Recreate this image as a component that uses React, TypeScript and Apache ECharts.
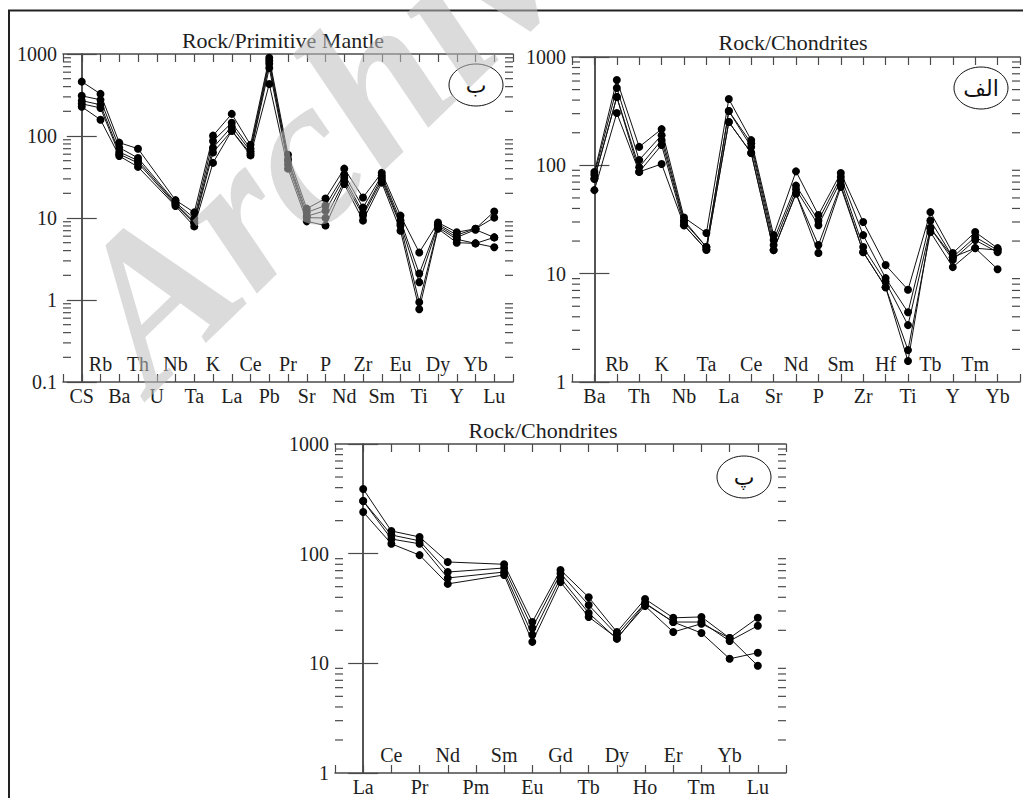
import React, { useEffect, useRef } from "react";
import * as echarts from "echarts";

// ---------- Chart ب : Rock / Primitive Mantle ----------
const PM_ELEMENTS = ["CS", "Rb", "Ba", "Th", "U", "Nb", "Ta", "K", "La", "Ce", "Pb", "Pr", "Sr", "P", "Nd", "Zr", "Sm", "Eu", "Ti", "Dy", "Y", "Yb", "Lu"];
const PM_S1 = [460, 326, 83, 70, null, 16.5, 11.7, 101, 186, 78, 900, 59, 13, 17.3, 40, 17.8, 35.7, 10.7, 3.8, 8.8, 6.7, 7.4, 12];
const PM_S2 = [309, 276, 72, 54, null, 15.5, 9.9, 87, 145, 70, 830, 52, 11.7, 14.2, 34, 13.4, 33, 9.3, 2.1, 8.4, 6.2, 7.4, 10.1];
const PM_S3 = [270, 240, 64, 50, null, 15, 9, 72, 130, 65, 760, 50, 10.5, 12.3, 31, 11.5, 31, 8.5, 1.65, 8.1, 5.8, 7.2, 5.8];
const PM_S4 = [247, 220, 60, 47, null, 14.5, 8.6, 63, 116, 61, 676, 45, 10.1, 10, 28, 10.7, 29, 8.1, 0.94, 7.7, 5.5, 4.9, 5.8];
const PM_S5 = [227, 158, 57, 42, null, 14, 7.9, 47, 116, 58, 431, 40, 9.1, 8.1, 26, 9.3, 27, 7, 0.77, 7.4, 5.0, 4.9, 4.4];

// ---------- Chart الف : Rock / Chondrites (spider) ----------
const CH_ELEMENTS = ["Ba", "Rb", "Th", "K", "Nb", "Ta", "La", "Ce", "Sr", "Nd", "P", "Sm", "Zr", "Hf", "Ti", "Tb", "Y", "Tm", "Yb"];
const CH_S1 = [86.7, 613, 148, 216, 33, 23.7, 409, 171, 22.7, 88, 34.8, 85, 30, 12, 7.1, 37, 15.5, 24.2, 17.2];
const CH_S2 = [82, 518, 112, 190, 31, 17.6, 317, 160, 20.4, 65, 31, 78, 22.7, 9.1, 4.4, 31, 14.2, 21.8, 16.5];
const CH_S3 = [75, 427, 96, 171, 30, 17.6, 317, 148, 18.4, 60, 28, 72, 17.6, 8.4, 3.35, 26.4, 13.4, 20.4, 15.8];
const CH_S4 = [75, 427, 87, 154, 28, 16.6, 251, 130, 16.5, 55, 18.4, 66, 15.8, 7.5, 1.97, 24.2, 11.5, 17.2, 16.5];
const CH_S5 = [59, 304, 87, 103, 28, 16.6, 251, 130, 16.5, 55, 15.5, 63, 15.8, 7.5, 1.56, 26.4, 14.2, 17.2, 11];

// ---------- Chart پ : Rock / Chondrites (REE) ----------
const REE_ELEMENTS = ["La", "Ce", "Pr", "Nd", "Pm", "Sm", "Eu", "Gd", "Tb", "Dy", "Ho", "Er", "Tm", "Yb", "Lu"];
const REE_S1 = [389, 161, 142, 84, null, 80, 23.8, 71, 40, 19.3, 38.6, 26, 26.5, 17, 26];
const REE_S2 = [302, 148, 131, 68, null, 74, 21, 66, 34, 18.2, 35.5, 23.8, 23.8, 16, 22];
const REE_S3 = [302, 136, 123, 60, null, 68, 18.2, 60, 28.8, 16.7, 35, 23.8, 18.9, 11, 12.5];
const REE_S4 = [240, 123, 97, 53, null, 64, 15.7, 55, 26.5, 17, 33.3, 19.3, 23, 17, 9.5];

const TITLES = ["Rock/Primitive Mantle", "Rock/Chondrites", "Rock/Chondrites"];
const PANEL_LABELS = ["ب", "الف", "پ"];
const WATERMARK = "Archive";

const SERIF = '"Liberation Serif", "Times New Roman", serif';
const AXIS_COLOR = "#4a4a4a";
const TEXT_COLOR = "#1e1e1e";

function minorTickValues(minExp: number, maxExp: number): number[] {
  const out: number[] = [];
  for (let e = minExp; e < maxExp; e++) {
    for (let m = 2; m <= 9; m++) out.push(Number((m * Math.pow(10, e)).toPrecision(3)));
  }
  return out;
}

type Panel = {
  cats: string[];
  series: (number | null)[][];
  yMin: number;
  yMax: number;
  grid: { left: number; top: number; width: number; height: number };
};

const PANELS: Panel[] = [
  { cats: PM_ELEMENTS, series: [PM_S1, PM_S2, PM_S3, PM_S4, PM_S5], yMin: 0.1, yMax: 1000, grid: { left: 63, top: 54, width: 450, height: 328 } },
  { cats: CH_ELEMENTS, series: [CH_S1, CH_S2, CH_S3, CH_S4, CH_S5], yMin: 1, yMax: 1000, grid: { left: 572, top: 57, width: 450, height: 325 } },
  { cats: REE_ELEMENTS, series: [REE_S1, REE_S2, REE_S3, REE_S4], yMin: 1, yMax: 1000, grid: { left: 335, top: 444, width: 451, height: 329 } },
];

function buildOption() {
  const grid: any[] = [];
  const xAxis: any[] = [];
  const yAxis: any[] = [];
  const series: any[] = [];
  const axisLine = { show: true, lineStyle: { color: AXIS_COLOR, width: 1.5 } };

  PANELS.forEach((p, k) => {
    grid.push({ ...p.grid, containLabel: false });
    const n = p.cats.length;
    const base = { type: "value", gridIndex: k, min: -1, max: n, interval: 1, splitLine: { show: false } };
    const fmt = (even: boolean) => (v: number) => {
      const i = Math.round(v);
      if (i < 0 || i >= n) return "";
      return (i % 2 === 0) === even ? p.cats[i] : "";
    };
    // bottom axis with outside labels
    xAxis.push({
      ...base,
      position: "bottom",
      axisLine,
      axisTick: { show: true, inside: true, length: 8, lineStyle: { color: AXIS_COLOR, width: 1.2 } },
      axisLabel: { show: true, margin: 4, fontFamily: SERIF, fontSize: 20, color: TEXT_COLOR, formatter: fmt(true) },
    });
    // bottom axis with inside labels
    xAxis.push({
      ...base,
      position: "bottom",
      axisLine: { show: false },
      axisTick: { show: false },
      axisLabel: { show: true, inside: true, margin: 8, fontFamily: SERIF, fontSize: 20, color: TEXT_COLOR, formatter: fmt(false) },
    });
    // top axis
    xAxis.push({
      ...base,
      position: "top",
      axisLine,
      axisTick: { show: true, inside: true, length: 8, lineStyle: { color: AXIS_COLOR, width: 1.2 } },
      axisLabel: { show: false },
    });
    const yBase = { type: "log", logBase: 10, gridIndex: k, min: p.yMin, max: p.yMax, splitLine: { show: false } };
    yAxis.push({
      ...yBase,
      position: "left",
      axisLine,
      axisTick: { show: true, inside: true, length: 15, lineStyle: { color: AXIS_COLOR, width: 1.2 } },
      axisLabel: {
        show: true,
        margin: 6,
        fontFamily: SERIF,
        fontSize: 20,
        color: TEXT_COLOR,
        formatter: (v: number) => String(Number(Number(v).toPrecision(3))),
      },
    });
    yAxis.push({
      ...yBase,
      position: "right",
      axisLine,
      axisTick: { show: true, inside: true, length: 15, lineStyle: { color: AXIS_COLOR, width: 1.2 } },
      axisLabel: { show: false },
    });

    const minExp = Math.round(Math.log10(p.yMin));
    const maxExp = Math.round(Math.log10(p.yMax));
    series.push({
      type: "custom",
      xAxisIndex: 3 * k,
      yAxisIndex: 2 * k,
      silent: true,
      clip: false,
      encode: { x: 0, y: 1 },
      data: minorTickValues(minExp, maxExp).map((v) => [-1, v]),
      renderItem: (params: any, api: any) => {
        const v = api.value(1);
        const l = api.coord([-1, v]);
        const r = api.coord([n, v]);
        const style = { stroke: AXIS_COLOR, lineWidth: 1.2 };
        return {
          type: "group",
          children: [
            { type: "line", shape: { x1: l[0], y1: l[1], x2: l[0] + 8, y2: l[1] }, style },
            { type: "line", shape: { x1: r[0], y1: r[1], x2: r[0] - 8, y2: r[1] }, style },
          ],
        };
      },
    });

    p.series.forEach((vals) => {
      series.push({
        type: "line",
        xAxisIndex: 3 * k,
        yAxisIndex: 2 * k,
        data: vals.map((v, i) => [i, v]).filter((d) => d[1] != null),
        symbol: "circle",
        symbolSize: 8,
        showSymbol: true,
        lineStyle: { color: "#111", width: 1 },
        itemStyle: { color: "#000" },
        z: 3,
      });
    });
  });

  const title = [
    { text: TITLES[0], left: 283, top: 29, textAlign: "center" },
    { text: TITLES[1], left: 793, top: 31, textAlign: "center" },
    { text: TITLES[2], left: 543, top: 419, textAlign: "center" },
  ].map((t) => ({
    ...t,
    padding: 0,
    textStyle: { fontFamily: SERIF, fontSize: 22, fontWeight: "normal", color: TEXT_COLOR },
  }));

  const ellipses = [
    { cx: 476, cy: 85, label: PANEL_LABELS[0] },
    { cx: 981, cy: 88, label: PANEL_LABELS[1] },
    { cx: 744, cy: 477, label: PANEL_LABELS[2] },
  ];
  const graphic: any[] = [
    {
      type: "rect",
      shape: { x: 9, y: 10.5, width: 1030, height: 800 },
      style: { fill: "none", stroke: "#222", lineWidth: 2 },
      silent: true,
    },
  ];
  ellipses.forEach((e) => {
    graphic.push({
      type: "ellipse",
      shape: { cx: e.cx, cy: e.cy, rx: 27, ry: 21 },
      style: { fill: "none", stroke: "#111", lineWidth: 1 },
      silent: true,
    });
    graphic.push({
      type: "text",
      x: e.cx,
      y: e.cy,
      style: {
        text: e.label,
        textAlign: "center",
        textVerticalAlign: "middle",
        font: '22px "DejaVu Sans"',
        fill: "#111",
      },
      silent: true,
    });
  });
  graphic.push({
    type: "text",
    x: 348,
    y: 106,
    rotation: (44 * Math.PI) / 180,
    z: 100,
    silent: true,
    style: {
      text: WATERMARK,
      textAlign: "center",
      textVerticalAlign: "middle",
      font: 'italic bold 212px "Liberation Serif"',
      fill: "rgba(190,190,190,0.55)",
    },
  });

  return {
    animation: false,
    backgroundColor: "#ffffff",
    title,
    grid,
    xAxis,
    yAxis,
    series,
    graphic,
  };
}

export default function App() {
  const ref = useRef<HTMLDivElement>(null);
  useEffect(() => {
    if (!ref.current) return;
    const chart = echarts.init(ref.current, undefined, { renderer: "svg" });
    chart.setOption(buildOption() as any);
    return () => chart.dispose();
  }, []);
  return (
    <div
      ref={ref}
      style={{ position: "fixed", left: 0, top: 0, width: 1023, height: 798, background: "#fff" }}
    />
  );
}
